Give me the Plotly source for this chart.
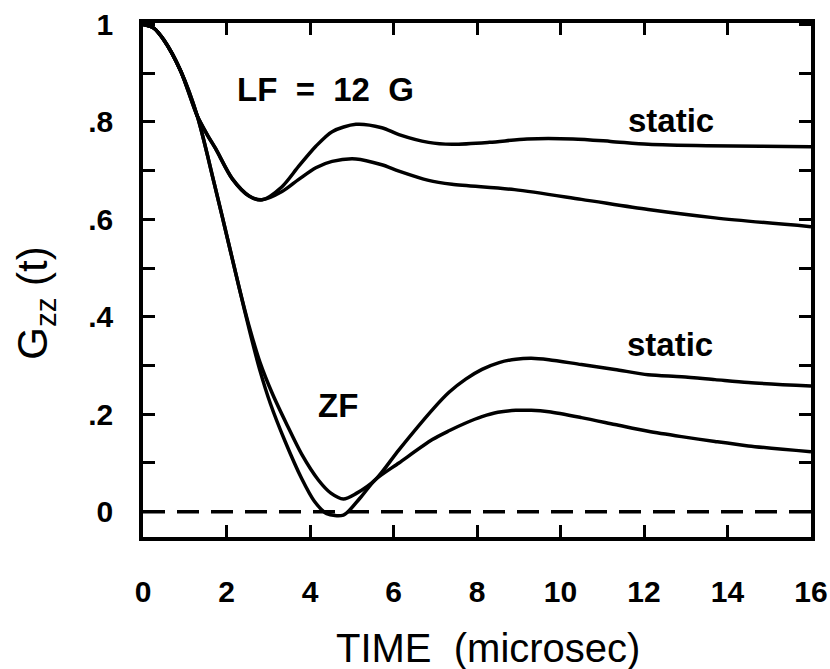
import plotly.graph_objects as go

# ---- data ----
# LF = 12 G, static
lf_static_t = [0, 0.25, 0.5, 0.9, 1.3, 1.55, 1.74, 2.14, 2.54, 2.85, 3.33, 3.73, 4.14, 4.53, 5.1, 5.72, 6.13,
               6.84, 7.4, 8.3, 9.2, 10.3, 11.2, 12.1, 13.5, 14.8, 16]
lf_static_g = [1.0, 0.993, 0.968, 0.905, 0.812, 0.772, 0.745, 0.683, 0.648, 0.640, 0.667, 0.709, 0.750, 0.780,
               0.795, 0.788, 0.774, 0.758, 0.754, 0.758, 0.765, 0.765, 0.760, 0.754, 0.751, 0.750, 0.749]
# LF = 12 G, dynamic
lf_dyn_t = [0, 0.25, 0.5, 0.9, 1.3, 1.55, 1.74, 2.14, 2.54, 2.85, 3.33, 3.73, 4.14, 4.53, 5.1, 5.72, 6.13,
            6.84, 7.4, 8.9, 10.5, 12.1, 13.7, 16]
lf_dyn_g = [1.0, 0.993, 0.968, 0.905, 0.812, 0.772, 0.745, 0.683, 0.648, 0.640, 0.657, 0.682, 0.706, 0.719,
            0.724, 0.712, 0.699, 0.680, 0.672, 0.661, 0.641, 0.620, 0.603, 0.585]
# ZF, static
zf_static_t = [0, 0.25, 0.5, 0.9, 1.3, 1.7, 2.1, 2.3, 2.55, 2.8, 3.1, 3.45, 3.8, 4.2, 4.5, 4.8, 5.1, 5.57,
               6.13, 6.93, 7.33, 7.73, 8.12, 8.53, 8.93, 9.3, 9.72, 10.5, 11.3, 12.1, 12.9, 13.7, 14.5, 16]
zf_static_g = [1.0, 0.993, 0.968, 0.905, 0.812, 0.676, 0.533, 0.461, 0.378, 0.307, 0.242, 0.178, 0.118, 0.065,
               0.038, 0.026, 0.037, 0.066, 0.127, 0.209, 0.245, 0.272, 0.292, 0.306, 0.313, 0.315, 0.312,
               0.302, 0.292, 0.281, 0.277, 0.271, 0.265, 0.258]
# ZF, dynamic
zf_dyn_t = [0, 0.25, 0.5, 0.9, 1.3, 1.7, 2.1, 2.3, 2.55, 2.8, 3.05, 3.4, 3.8, 4.1, 4.4, 4.8, 5.2, 5.57, 6.13,
            6.93, 7.33, 7.73, 8.12, 8.5, 8.93, 9.3, 9.72, 10.5, 11.3, 12.1, 12.9, 13.7, 14.5, 16]
zf_dyn_g = [1.0, 0.993, 0.968, 0.905, 0.812, 0.676, 0.533, 0.461, 0.372, 0.290, 0.222, 0.145, 0.068, 0.022,
            -0.004, -0.007, 0.028, 0.066, 0.100, 0.148, 0.166, 0.182, 0.195, 0.204, 0.208, 0.208, 0.205,
            0.193, 0.179, 0.165, 0.154, 0.144, 0.135, 0.123]
# zero reference (dashed)
zero_t = [0, 16]
zero_g = [0, 0]

x_ticks = [0, 2, 4, 6, 8, 10, 12, 14, 16]
x_labels = ["0", "2", "4", "6", "8", "10", "12", "14", "16"]
y_ticks = [0, 0.2, 0.4, 0.6, 0.8, 1.0]
y_labels = ["0", ".2", ".4", ".6", ".8", "1"]
y_minor_ticks = [0.1, 0.3, 0.5, 0.7, 0.9]

FONT = "Liberation Sans"
line = dict(color="black", width=3.5, shape="spline", smoothing=0.8)

fig = go.Figure()
for t, g in [(lf_static_t, lf_static_g), (lf_dyn_t, lf_dyn_g),
             (zf_static_t, zf_static_g), (zf_dyn_t, zf_dyn_g)]:
    fig.add_trace(go.Scatter(x=t, y=g, mode="lines", line=line, showlegend=False, hoverinfo="skip"))
fig.add_trace(go.Scatter(x=zero_t, y=zero_g, mode="lines",
                         line=dict(color="black", width=3.5, dash="22px,12px"),
                         showlegend=False, hoverinfo="skip"))

axis_common = dict(showline=True, linecolor="black", linewidth=3.5, mirror="ticks",
                   ticks="inside", ticklen=12, tickwidth=3, tickcolor="black",
                   showgrid=False, zeroline=False, automargin=False, ticklabeloverflow="allow",
                   tickfont=dict(family=FONT, size=30, color="black", weight="bold"))

fig.update_xaxes(range=[0, 16], tickvals=x_ticks, ticktext=x_labels, ticklabelstandoff=25, **axis_common)
fig.update_yaxes(range=[-0.052, 1.003], tickvals=y_ticks, ticktext=y_labels, ticklabelstandoff=20,
                 minor=dict(tickvals=y_minor_ticks, ticks="inside", ticklen=12, tickwidth=3,
                            tickcolor="black", showgrid=False),
                 **axis_common)

W, H = 830, 669
L, T = 143, 23
pw, ph = 668, 514
R, B = W - L - pw, H - T - ph
fig.update_layout(
    width=W, height=H,
    margin=dict(l=L, r=R, t=T, b=B, autoexpand=False),
    plot_bgcolor="white", paper_bgcolor="white",
    font=dict(family=FONT, color="black"),
)

annots = [
    dict(x=4.36, y=0.866, text="LF  =  12  G"),
    dict(x=4.67, y=0.218, text="ZF"),
    dict(x=12.65, y=0.803, text="static"),
    dict(x=12.63, y=0.343, text="static"),
]
for a in annots:
    fig.add_annotation(x=a["x"], y=a["y"], xref="x", yref="y", text=a["text"],
                       showarrow=False, font=dict(family=FONT, size=33, color="black", weight="bold"))

# x axis title (page position 488, 648)
fig.add_annotation(x=(488 - L) / pw, y=(H - B - 648) / ph, xref="paper", yref="paper",
                   xanchor="center", yanchor="middle", text="TIME  (microsec)", showarrow=False,
                   font=dict(family=FONT, size=40, color="black"))
# y axis title (page x 36)
fig.add_annotation(x=(36 - L) / pw, y=0.429, xref="paper", yref="y", xanchor="center", yanchor="middle",
                   text="G<sub>zz</sub> (t)", textangle=-90, showarrow=False,
                   font=dict(family=FONT, size=42, color="black"))

# remove the default 8 px body margin so the 830x669 figure fills the window exactly
fig.write_html("out.html", config={"displayModeBar": False},
               post_script="document.body.style.margin='0';document.body.style.overflow='hidden';")
